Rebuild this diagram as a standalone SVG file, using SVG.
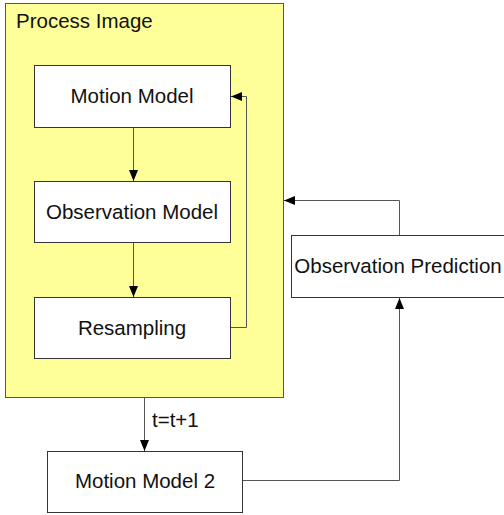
<svg xmlns="http://www.w3.org/2000/svg" width="504" height="515" viewBox="0 0 504 515">
<style>
.box{fill:#fff;stroke:#333;stroke-width:1}
.lbl{font-family:"Liberation Sans",Arial,sans-serif;font-size:20.5px;fill:#111;text-anchor:middle}
.edge{fill:none;stroke:#555;stroke-width:1}
</style>
<defs>
<marker id="ah" markerWidth="11" markerHeight="9" refX="11" refY="4.5" orient="auto" markerUnits="userSpaceOnUse">
<path d="M0,0 L11,4.5 L0,9 Z" fill="#000"/>
</marker>
</defs>
<rect width="504" height="515" fill="#fff"/>
<g id="process-image">
<rect x="5.5" y="3.5" width="278" height="394" fill="#ffff99" stroke="#555"/>
<text x="16" y="28" class="lbl" style="text-anchor:start">Process Image</text>
</g>
<g id="motion-model">
<rect class="box" x="34.5" y="65.5" width="196" height="62"/>
<text x="132" y="103" class="lbl">Motion Model</text>
</g>
<g id="observation-model">
<rect class="box" x="34.5" y="181.5" width="196" height="61"/>
<text x="132" y="219" class="lbl">Observation Model</text>
</g>
<g id="resampling">
<rect class="box" x="34.5" y="297.5" width="196" height="61"/>
<text x="132" y="335" class="lbl">Resampling</text>
</g>
<g id="observation-prediction">
<rect class="box" x="291.5" y="235.5" width="220" height="62"/>
<text x="398" y="273" class="lbl">Observation Prediction</text>
</g>
<g id="motion-model-2">
<rect class="box" x="47.5" y="451.5" width="195" height="61"/>
<text x="145" y="488" class="lbl">Motion Model 2</text>
</g>
<g id="connectors">
<path class="edge" d="M133.5,128 V181" marker-end="url(#ah)"/>
<path class="edge" d="M133.5,243 V297" marker-end="url(#ah)"/>
<path class="edge" d="M231,327.5 H246.5 V96.5 H231" marker-end="url(#ah)"/>
<path class="edge" d="M399.5,235 V200.5 H284" marker-end="url(#ah)"/>
<path class="edge" d="M243,480.5 H399.5 V298" marker-end="url(#ah)"/>
<path class="edge" d="M144.5,398 V451" marker-end="url(#ah)"/>
<text x="152" y="427" class="lbl" style="text-anchor:start">t=t+1</text>
</g>
</svg>
